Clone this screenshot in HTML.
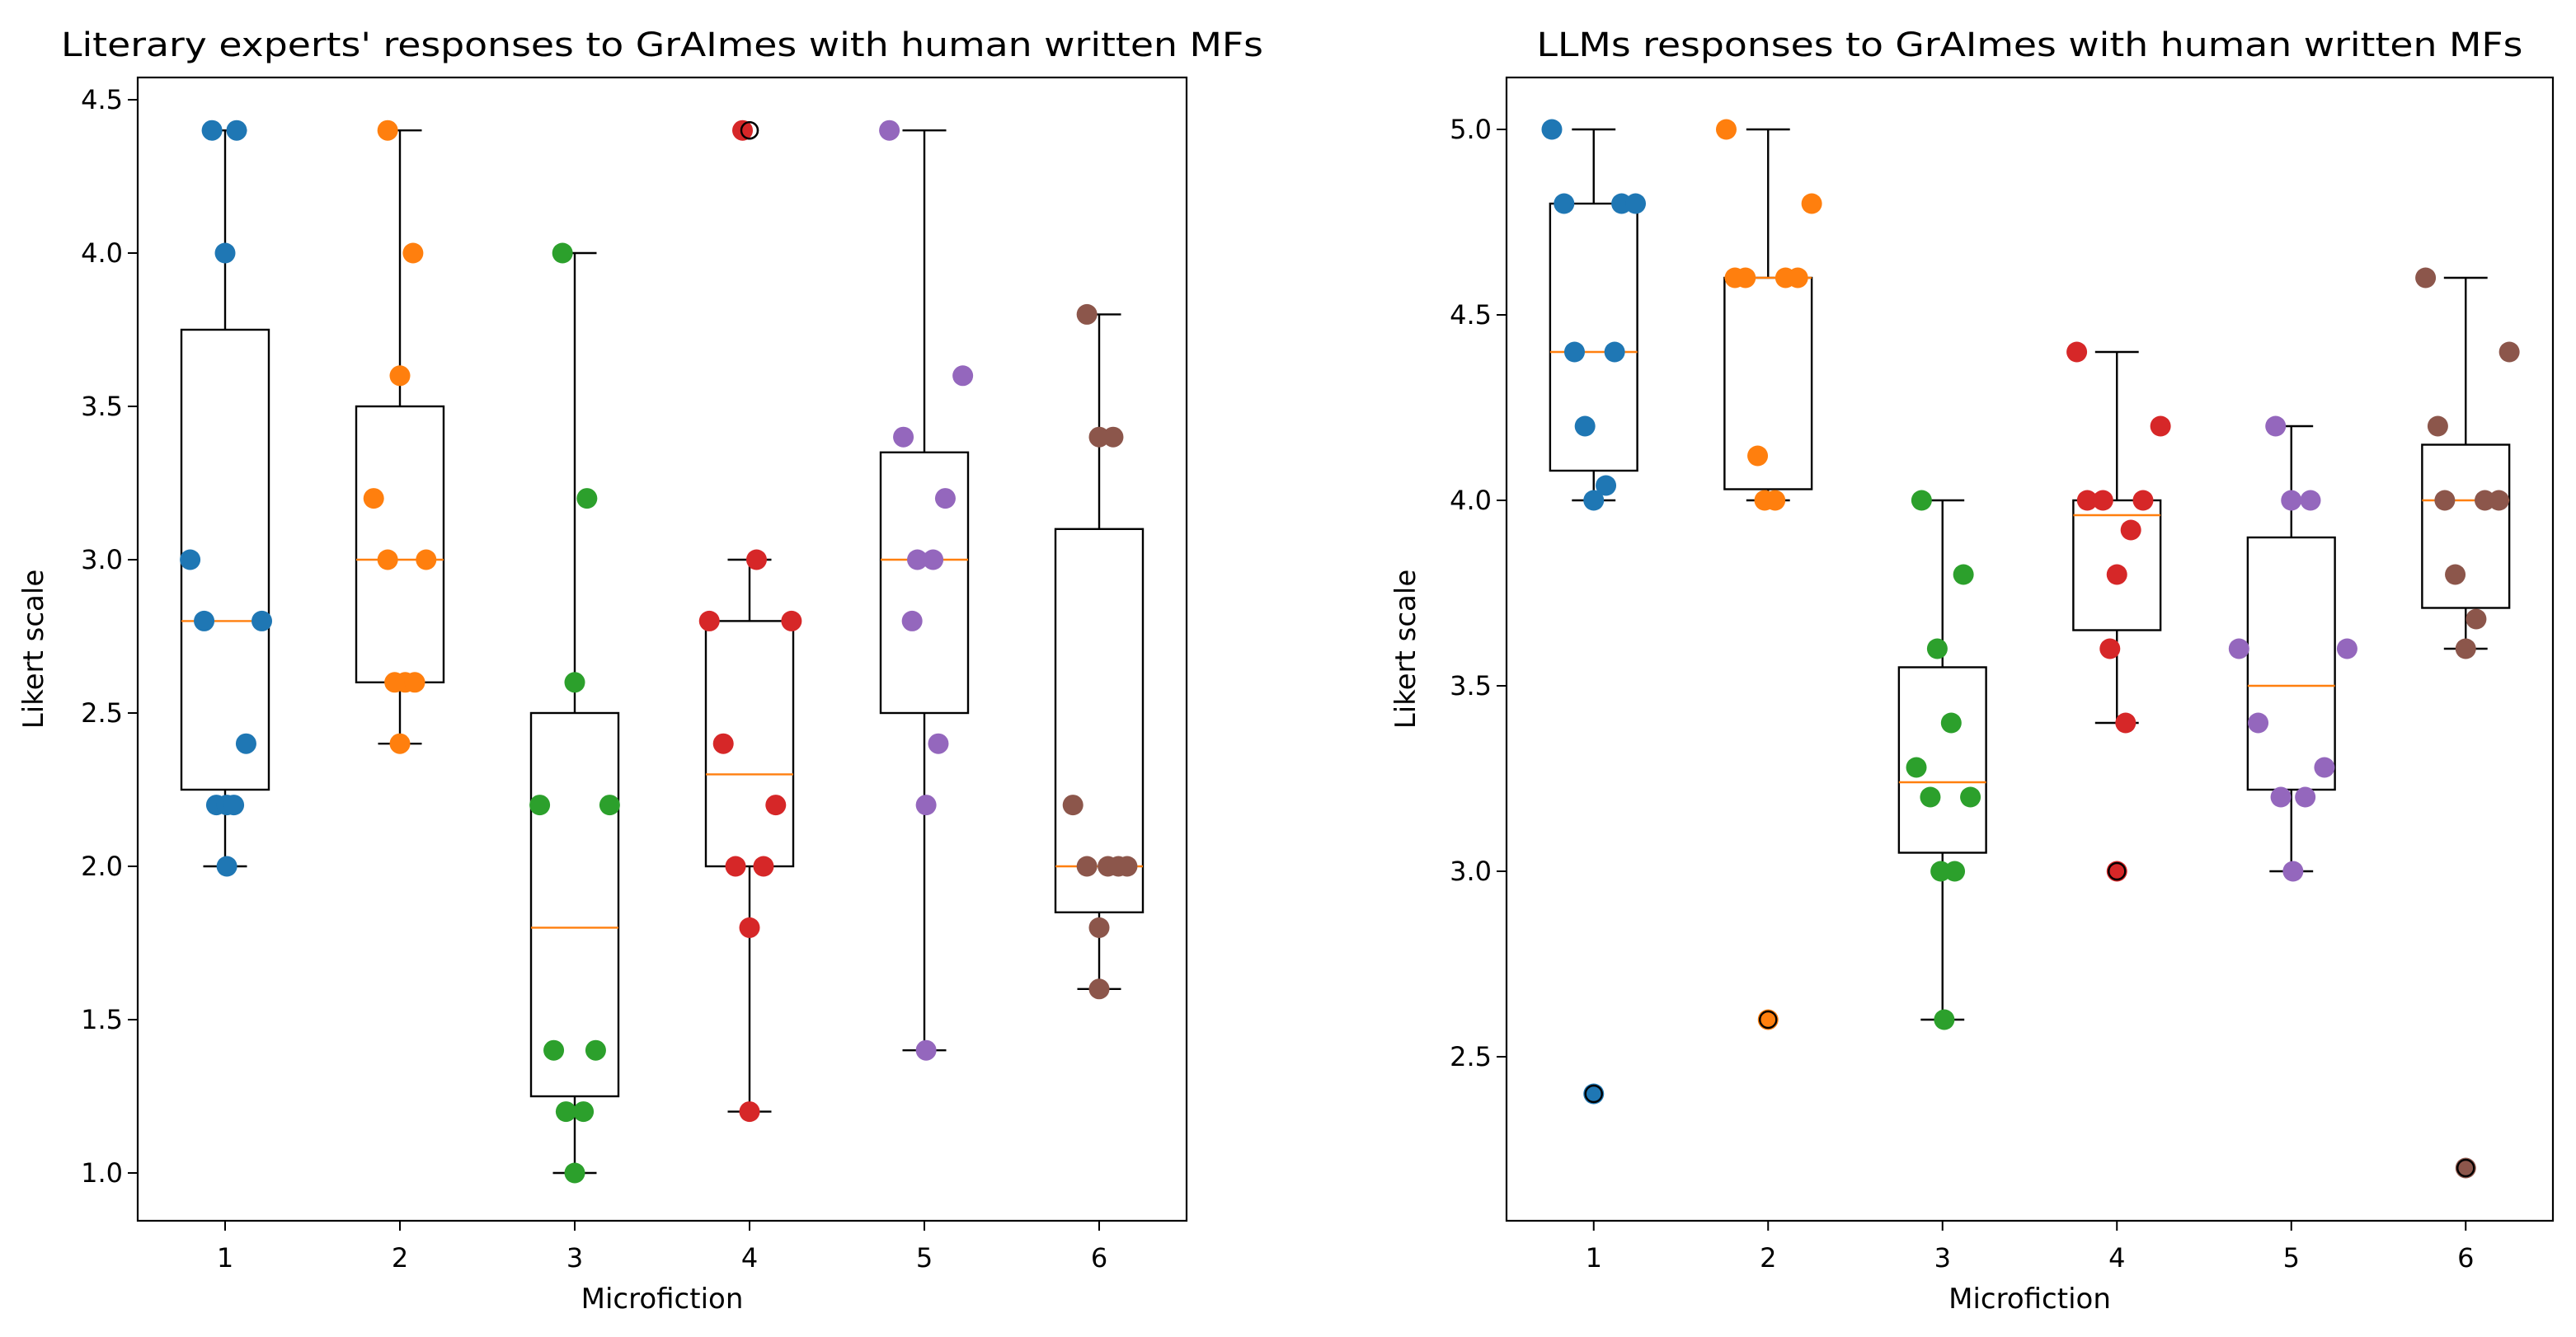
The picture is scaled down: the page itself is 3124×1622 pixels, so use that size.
<!DOCTYPE html>
<html><head><meta charset="utf-8"><style>
html,body{margin:0;padding:0;background:#fff;}
svg{display:block;font-family:"DejaVu Sans","Liberation Sans",sans-serif;}
</style></head><body>
<svg id="fig" width="3124" height="1622" viewBox="0 0 3124 1622" xmlns="http://www.w3.org/2000/svg">
<rect width="3124" height="1622" fill="#fff"/>
</svg>
<script>
const colors = ['#1f77b4','#ff7f0e','#2ca02c','#d62728','#9467bd','#8c564b'];
// Left panel data
const leftTitle = "Literary experts' responses to GrAImes with human written MFs";
const leftTicks = [1.0,1.5,2.0,2.5,3.0,3.5,4.0,4.5];
const leftQ1 = [2.25,2.6,1.25,2.0,2.5,1.85];
const leftQ3 = [3.75,3.5,2.5,2.8,3.35,3.1];
const leftMed = [2.8,3.0,1.8,2.3,3.0,2.0];
const leftWLo = [2.0,2.4,1.0,1.2,1.4,1.6];
const leftWHi = [4.4,4.4,4.0,3.0,4.4,3.8];
const leftFliers = [[],[],[],[4.4],[],[]];
const leftVals = [
 [4.4,4.4,4.0,3.0,2.8,2.8,2.4,2.2,2.2,2.2,2.0],
 [4.4,4.0,3.6,3.2,3.0,3.0,2.6,2.6,2.6,2.4],
 [4.0,3.2,2.6,2.2,2.2,1.4,1.4,1.2,1.2,1.0],
 [4.4,3.0,2.8,2.8,2.4,2.2,2.0,2.0,1.8,1.2],
 [4.4,3.6,3.4,3.2,3.0,3.0,2.8,2.4,2.2,1.4],
 [3.8,3.4,3.4,2.2,2.0,2.0,2.0,2.0,1.8,1.6]];
const leftJit = [
 [-0.075,0.066,0,-0.2,-0.12,0.21,0.12,-0.05,0.01,0.05,0.01],
 [-0.07,0.075,0,-0.15,-0.07,0.15,-0.03,0.03,0.085,0],
 [-0.07,0.07,0,-0.2,0.2,-0.12,0.12,-0.05,0.05,0],
 [-0.04,0.04,-0.23,0.24,-0.15,0.15,-0.08,0.08,0,0],
 [-0.2,0.22,-0.12,0.12,-0.04,0.05,-0.07,0.08,0.01,0.01],
 [-0.07,0,0.08,-0.15,-0.07,0.05,0.11,0.16,0,0]];
// Right panel data
const rightTitle = "LLMs responses to GrAImes with human written MFs";
const rightTicks = [2.5,3.0,3.5,4.0,4.5,5.0];
const rightQ1 = [4.08,4.03,3.05,3.65,3.22,3.71];
const rightQ3 = [4.8,4.6,3.55,4.0,3.9,4.15];
const rightMed = [4.4,4.6,3.24,3.96,3.5,4.0];
const rightWLo = [4.0,4.0,2.6,3.4,3.0,3.6];
const rightWHi = [5.0,5.0,4.0,4.4,4.2,4.6];
const rightFliers = [[2.4],[2.6],[],[3.0],[],[2.2]];
const rightVals = [
 [5.0,4.8,4.8,4.8,4.4,4.4,4.2,4.04,4.0,2.4],
 [5.0,4.8,4.6,4.6,4.6,4.6,4.12,4.0,4.0,2.6],
 [4.0,3.8,3.6,3.4,3.28,3.2,3.2,3.0,3.0,2.6],
 [4.4,4.2,4.0,4.0,4.0,3.92,3.8,3.6,3.4,3.0],
 [4.2,4.0,4.0,3.6,3.6,3.4,3.28,3.2,3.2,3.0],
 [4.6,4.4,4.2,4.0,4.0,4.0,3.8,3.68,3.6,2.2]];
const rightJit = [
 [-0.24,-0.17,0.16,0.24,-0.11,0.12,-0.05,0.07,0,0],
 [-0.24,0.25,-0.19,-0.13,0.1,0.17,-0.06,-0.02,0.04,0],
 [-0.12,0.12,-0.03,0.05,-0.15,-0.07,0.16,-0.01,0.07,0.01],
 [-0.23,0.25,-0.17,-0.08,0.15,0.08,0,-0.04,0.05,0],
 [-0.09,0,0.11,-0.3,0.32,-0.19,0.19,-0.06,0.08,0.01],
 [-0.23,0.25,-0.16,-0.12,0.11,0.19,-0.06,0.06,0,0]];

const NS='http://www.w3.org/2000/svg';
const svg=document.getElementById('fig');
function mk(tag,attrs,parent,text){const e=document.createElementNS(NS,tag);for(const k in attrs)e.setAttribute(k,attrs[k]);if(text!==undefined)e.textContent=text;(parent||svg).appendChild(e);return e;}

function panel(p){
  const g=mk('g',{});
  
  
  const xs=v=>p.L+(v-0.5)/6*(p.R-p.L);
  const ys=v=>p.y0+(p.v0-v)*p.k;
  const bw=0.25, cw=0.125;
  for(let i=0;i<6;i++){
    const c=i+1, bg=mk('g',{},g);
    
    
    const st={stroke:'#000','stroke-width':2.4,fill:'none'};
    mk('line',Object.assign({x1:xs(c),x2:xs(c),y1:ys(p.q3[i]),y2:ys(p.whi[i])},st),bg);
    mk('line',Object.assign({x1:xs(c),x2:xs(c),y1:ys(p.q1[i]),y2:ys(p.wlo[i])},st),bg);
    mk('line',Object.assign({x1:xs(c-cw),x2:xs(c+cw),y1:ys(p.whi[i]),y2:ys(p.whi[i])},st),bg);
    mk('line',Object.assign({x1:xs(c-cw),x2:xs(c+cw),y1:ys(p.wlo[i]),y2:ys(p.wlo[i])},st),bg);
    mk('rect',Object.assign({x:xs(c-bw),y:ys(p.q3[i]),width:xs(c+bw)-xs(c-bw),height:ys(p.q1[i])-ys(p.q3[i])},st),bg);
    const m=mk('line',{x1:xs(c-bw),x2:xs(c+bw),y1:ys(p.med[i]),y2:ys(p.med[i]),stroke:'#ff7f0e','stroke-width':2.4},bg);
    
    
    p.fl[i].forEach(v=>{
      const f=mk('circle',{cx:xs(c),cy:ys(v),r:10,fill:'none',stroke:'#000','stroke-width':2.4},bg);
      
      
    });
  }
  for(let i=0;i<6;i++){
    p.vals[i].forEach((v,j)=>{
      const d=mk('circle',{cx:xs(i+1+p.jit[i][j]),cy:ys(v),r:12.5,fill:colors[i]},g);
      
      
    });
  }
  for(let i=0;i<6;i++){
    p.fl[i].forEach(v=>{
      const f=mk('circle',{cx:xs(i+1),cy:ys(v),r:10,fill:'none',stroke:'#000','stroke-width':2.4},g);
      
      
    });
  }
  const fr=mk('rect',{x:p.L,y:p.T,width:p.R-p.L,height:p.B-p.T,fill:'none',stroke:'#000','stroke-width':2.2},g);
  
  
  p.ticks.forEach(t=>{
    mk('line',{x1:p.L-12,x2:p.L,y1:ys(t),y2:ys(t),stroke:'#000','stroke-width':2},g);
    const tl=mk('text',{x:p.L-18,y:ys(t)+11,'text-anchor':'end','font-size':32},g,t.toFixed(1));
    
    
  });
  for(let c=1;c<=6;c++){
    mk('line',{x1:xs(c),x2:xs(c),y1:p.B,y2:p.B+12,stroke:'#000','stroke-width':2},g);
    const tl=mk('text',{x:xs(c),y:p.B+56,'text-anchor':'middle','font-size':32},g,String(c));
    
    
  }
  const xl=mk('text',{x:(p.L+p.R)/2,y:p.B+106,'text-anchor':'middle','font-size':34},g,'Microfiction');
  
  
  const yl=mk('text',{x:0,y:0,'text-anchor':'middle','font-size':34,transform:`translate(${p.yl},${(p.T+p.B)/2}) rotate(-90)`},g,'Likert scale');
  
  
  const tt=mk('text',{x:(p.L+p.R)/2,y:68,'text-anchor':'middle','font-size':40,textLength:p.tw,lengthAdjust:'spacingAndGlyphs'},g,p.title);
  
  
}
panel({name:'left-panel',L:167,R:1439,T:94,B:1481,y0:121,v0:4.5,k:372,ticks:leftTicks,q1:leftQ1,q3:leftQ3,med:leftMed,wlo:leftWLo,whi:leftWHi,fl:leftFliers,vals:leftVals,jit:leftJit,yl:52,title:leftTitle,tw:1458});
panel({name:'right-panel',L:1827,R:3096,T:94,B:1481,y0:157,v0:5.0,k:450,ticks:rightTicks,q1:rightQ1,q3:rightQ3,med:rightMed,wlo:rightWLo,whi:rightWHi,fl:rightFliers,vals:rightVals,jit:rightJit,yl:1716,title:rightTitle,tw:1196});
</script>
</body></html>
